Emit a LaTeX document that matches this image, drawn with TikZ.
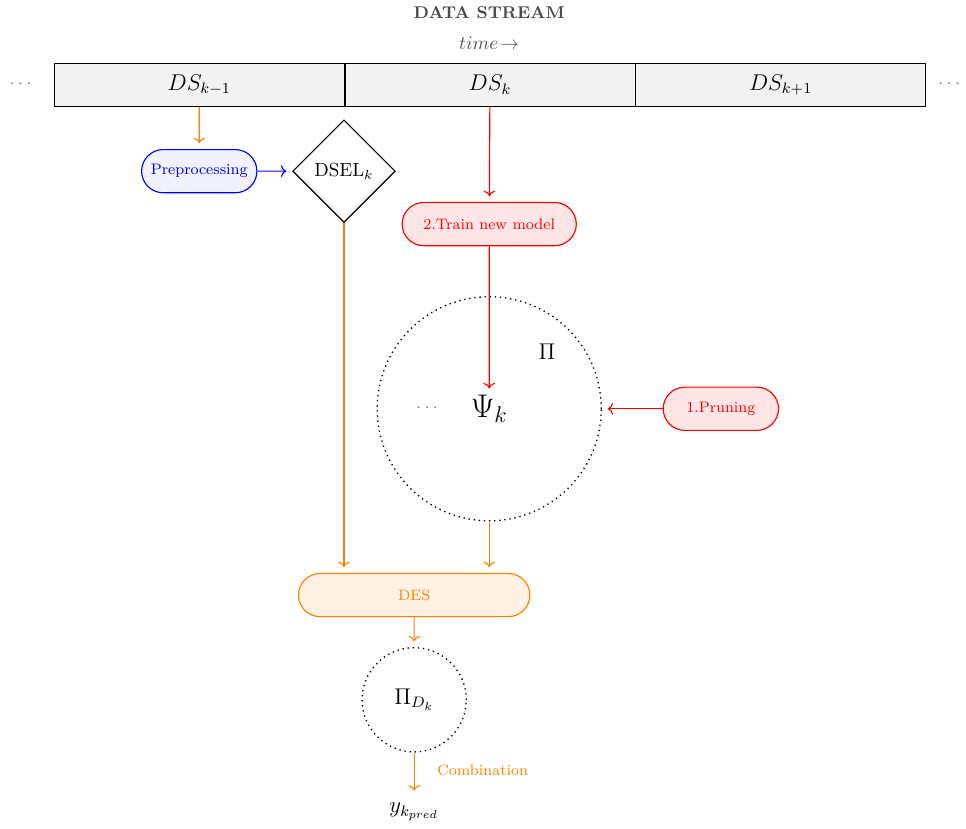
\documentclass[tikz,border=0pt]{standalone}
\usepackage{amsmath}
\usetikzlibrary{arrows.meta, positioning, shapes.geometric, shapes.misc}

\begin{document}
\begin{tikzpicture}[
    cell/.style={rectangle, draw, fill=gray!10, minimum width=5.37cm, minimum height=0.8cm, inner sep=0pt, font=\large},
    proc/.style={rounded rectangle, draw, semithick, font=\footnotesize, minimum height=0.8cm, minimum width=2.37cm},
    pool/.style={circle, draw, dotted, line width=0.7pt},
    flow/.style={->, semithick, shorten >=3pt},
    >=To]

\useasboundingbox (0,0) rectangle (17.89,-15.35);

% Data stream on top
\node[font=\small\bfseries, text=black!70] (title) at (9.06,-0.24) {DATA STREAM};
\node[text=black!70] (time) at (9.06,-0.8) {$time\!\rightarrow$};
\node[cell] (ds1) at (3.69,-1.57) {$DS_{k-1}$};
\node[cell, right=0pt of ds1] (ds2) {$DS_k$};
\node[cell, right=0pt of ds2] (ds3) {$DS_{k+1}$};
\node[text=gray] (dotsL) at (0.41,-1.57) {$\cdots$};
\node[text=gray] (dotsR) at (17.61,-1.57) {$\cdots$};

% Selection data and model training
\node[proc, draw=blue, fill=blue!5, text=blue] (pre) at (3.69,-3.17) {Preprocessing};
\node[diamond, draw, semithick, aspect=1, minimum size=1.9cm, inner sep=0pt] (dsel) at (6.37,-3.17) {DSEL$_k$};
\node[proc, draw=red, fill=red!10, text=red, minimum width=3.46cm] (train) at (9.06,-4.15) {2.Train new model};

% Pool
\node[pool, minimum size=4.15cm] (pool) at (9.06,-7.57) {};
\node[font=\LARGE] (psi) at (9.06,-7.57) {$\Psi_k$};
\node[font=\large] (pi) at (10.13,-6.52) {$\Pi$};
\node[text=gray] (dotsP) at (7.94,-7.57) {$\cdots$};
\node[proc, draw=red, fill=red!10, text=red] (prune) at (13.35,-7.57) {1.Pruning};

% Selection and combination
\node[proc, draw=orange, fill=orange!10, text=orange, minimum width=4.52cm] (des) at (7.67,-11.02) {DES};
\node[pool, minimum size=1.93cm, font=\large] (sel) at (7.67,-12.96) {$\Pi_{D_k}$};
\node[font=\large] (ypred) at (7.67,-15.04) {$y_{k_{pred}}$};

\draw[flow, orange] (ds1) -- (pre);
\draw[flow, blue] (pre) -- (dsel);
\draw[flow, red] (ds2) -- (train);
\draw[flow, red, shorten >=0pt] (train) -- (psi);
\draw[flow, red] (prune) -- (pool);
\draw[flow, orange] (dsel) -- (dsel |- des.north);
\draw[flow, orange] (pool) -- (pool |- des.north);
\draw[flow, orange] (des) -- (sel);
\draw[flow, orange] (sel) -- node[pos=0.4, right=0.3cm, font=\footnotesize] {Combination} (ypred);
\end{tikzpicture}
\end{document}
